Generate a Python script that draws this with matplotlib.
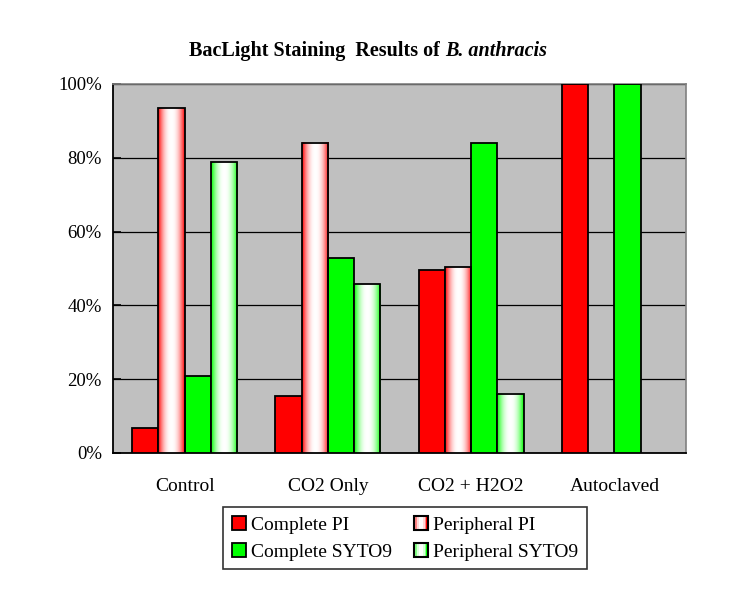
import matplotlib.pyplot as plt
import numpy as np
from matplotlib.legend_handler import HandlerBase
from matplotlib.patches import Rectangle
from matplotlib.colors import to_rgb

plt.rcParams['font.family'] = ['Liberation Serif', 'DejaVu Serif']

categories = ['Control', 'CO2 Only', 'CO2 + H2O2', 'Autoclaved']
complete_pi = [6.8, 15.5, 49.6, 100.0]
peripheral_pi = [93.4, 84.1, 50.3, 0.0]
complete_syto9 = [21.0, 52.9, 83.9, 100.0]
peripheral_syto9 = [78.8, 45.7, 16.0, 0.0]
yticks = [0, 20, 40, 60, 80, 100]

RED = '#FF0000'
GREEN = '#00FF00'


def gradient_row(color, n=64):
    # edge colour at both sides, white in the middle
    t = np.abs(np.linspace(-1, 1, n)) ** 2.2
    c = np.array(to_rgb(color))
    row = 1 - t[:, None] * (1 - c[None, :])
    return row[None, :, :]


class GradientHandler(HandlerBase):
    def __init__(self, color):
        super().__init__()
        self.color = color

    def create_artists(self, legend, orig_handle, xdescent, ydescent,
                       width, height, fontsize, trans):
        arts = []
        row = gradient_row(self.color, 8)[0]
        w = width / len(row)
        for i, col in enumerate(row):
            arts.append(Rectangle((-xdescent + i * w, -ydescent), w, height,
                                  facecolor=col, edgecolor='none', transform=trans))
        arts.append(Rectangle((-xdescent, -ydescent), width, height,
                              facecolor='none', edgecolor='black', lw=1.5, transform=trans))
        return arts


fig = plt.figure(figsize=(7.5, 5.89), dpi=100)
ax = fig.add_axes([0.1507, 0.2309, 0.764, 0.6265])
ax.set_facecolor('#C0C0C0')

x = np.arange(len(categories))
w = 0.183
series = [
    (complete_pi, RED, False, 'Complete PI'),
    (peripheral_pi, RED, True, 'Peripheral PI'),
    (complete_syto9, GREEN, False, 'Complete SYTO9'),
    (peripheral_syto9, GREEN, True, 'Peripheral SYTO9'),
]

handles = {}
for i, (vals, col, grad, lab) in enumerate(series):
    xs = x + (i - 1.5) * w
    if grad:
        bars = ax.bar(xs, vals, w, facecolor='none', edgecolor='black', lw=1.3, zorder=4)
        for b in bars:
            h = b.get_height()
            if h <= 0:
                b.set_visible(False)
                continue
            x0 = b.get_x()
            ax.imshow(gradient_row(col), extent=[x0, x0 + b.get_width(), 0, h],
                      aspect='auto', interpolation='bilinear', zorder=3)
        handles[lab] = Rectangle((0, 0), 1, 1, label=lab)
    else:
        bars = ax.bar(xs, vals, w, color=col, edgecolor='black', lw=1.3, zorder=3)
        handles[lab] = bars

ax.set_xlim(-0.5, 3.5)
ax.set_ylim(0, 100)
ax.set_yticks(yticks)
ax.set_yticklabels([f'{v}%' for v in yticks])
ax.set_xticks(x)
ax.set_xticklabels(categories)
ax.tick_params(axis='x', length=0, pad=18, labelsize=14)
ax.tick_params(axis='y', direction='in', length=6, width=1.2, pad=8, labelsize=13.5)
ax.yaxis.grid(True, color='black', lw=0.9)
ax.set_axisbelow(True)
for s in ['top', 'right']:
    ax.spines[s].set_color('#808080')
    ax.spines[s].set_linewidth(1.2)
for s in ['left', 'bottom']:
    ax.spines[s].set_color('black')
    ax.spines[s].set_linewidth(1.3)

t1 = fig.text(0.252, 0.913, 'BacLight Staining  Results of ', fontsize=14.5,
              fontweight='bold', va='center', ha='left')
ax.annotate('B. anthracis', xy=(1, 0), xycoords=t1, va='bottom', ha='left',
            fontsize=14.5, fontweight='bold', style='italic', annotation_clip=False)

order = ['Complete PI', 'Complete SYTO9', 'Peripheral PI', 'Peripheral SYTO9']
hmap = {handles['Peripheral PI']: GradientHandler(RED),
        handles['Peripheral SYTO9']: GradientHandler(GREEN)}
leg = fig.legend([handles[k] for k in order], order, ncol=2, loc='center',
                 bbox_to_anchor=(0.54, 0.086), fontsize=14, frameon=True,
                 fancybox=False, edgecolor='black', handlelength=0.75, handleheight=0.75,
                 handletextpad=0.25, columnspacing=1.1, labelspacing=0.45,
                 borderpad=0.45, handler_map=hmap)
leg.get_frame().set_linewidth(1.2)
leg.get_frame().set_boxstyle('square', pad=0)

fig.savefig('out.png', dpi=100)
